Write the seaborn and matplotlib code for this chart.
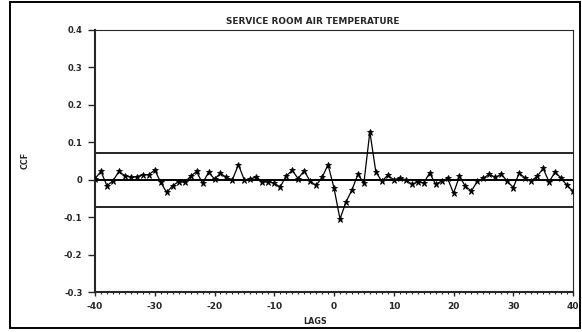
import numpy as np
import pandas as pd
import matplotlib
matplotlib.use("Agg")
import matplotlib.pyplot as plt
from matplotlib.patches import Rectangle
from matplotlib.ticker import MultipleLocator
import seaborn as sns

# Cross-correlation function estimates, lags -40 .. 40
lags = list(range(-40, 41))
ccf = [
    0.003, 0.022, -0.016, -0.003, 0.022, 0.011, 0.006, 0.008, 0.013, 0.013,   # -40..-31
    0.026, -0.007, -0.034, -0.016, -0.005, -0.007, 0.009, 0.022, -0.010, 0.020,  # -30..-21
    0.002, 0.017, 0.006, 0.000, 0.040, -0.001, 0.002, 0.008, -0.007, -0.005,   # -20..-11
    -0.010, -0.019, 0.010, 0.025, 0.003, 0.024, -0.004, -0.015, 0.006, 0.040,  # -10..-1
    -0.022,                                                                    # 0
    -0.105, -0.060, -0.027, 0.014, -0.009, 0.128, 0.021, -0.004, 0.012, 0.000,  # 1..10
    0.004, 0.000, -0.012, -0.006, -0.009, 0.018, -0.012, -0.004, 0.004, -0.036, # 11..20
    0.009, -0.018, -0.030, -0.004, 0.004, 0.015, 0.006, 0.015, -0.004, -0.021,  # 21..30
    0.018, 0.004, -0.003, 0.009, 0.030, -0.006, 0.021, 0.004, -0.015, -0.031,   # 31..40
]
conf_limit = 0.072
y_ticks = [-0.3, -0.2, -0.1, 0, 0.1, 0.2, 0.3, 0.4]
y_tick_labels = ["-0.3", "-0.2", "-0.1", "0", "0.1", "0.2", "0.3", "0.4"]
x_ticks = [-40, -30, -20, -10, 0, 10, 20, 30, 40]
x_tick_labels = ["-40", "-30", "-20", "-10", "0", "10", "20", "30", "40"]

df = pd.DataFrame({"LAGS": lags, "CCF": ccf})

sns.set_style("ticks")
plt.rcParams["font.family"] = ["DejaVu Sans"]

fig = plt.figure(figsize=(5.82, 3.32), dpi=100)
fig.patch.set_facecolor("white")
ax = fig.add_axes([95 / 582, 1 - 292 / 332, (573 - 95) / 582, (292 - 30) / 332])

# reference lines: zero and the +/- confidence limits
ax.axhline(0, color="black", lw=1.4, zorder=1)
ax.axhline(conf_limit, color="black", lw=1.2, zorder=1)
ax.axhline(-conf_limit, color="black", lw=1.2, zorder=1)

sns.lineplot(data=df, x="LAGS", y="CCF", ax=ax, color="black", lw=0.9,
             marker="*", markersize=5, markeredgewidth=0.6,
             markerfacecolor="black", markeredgecolor="black", zorder=3)

ax.set_xlim(-40, 40)
ax.set_ylim(-0.3, 0.4)
ax.set_xticks(x_ticks)
ax.set_xticklabels(x_tick_labels)
ax.set_yticks(y_ticks)
ax.set_yticklabels(y_tick_labels)
ax.xaxis.set_minor_locator(MultipleLocator(1))
ax.set_xlabel("")
ax.set_ylabel("")

for side in ["left", "bottom"]:
    ax.spines[side].set_linewidth(1.5)
for side in ["top", "right"]:
    ax.spines[side].set_linewidth(0.8)
    ax.spines[side].set_visible(True)

ax.tick_params(axis="y", which="major", direction="out", length=5, width=1,
               labelsize=6, pad=4)
ax.tick_params(axis="x", which="major", direction="out", length=3, width=1,
               labelsize=6.5, pad=4)
ax.tick_params(axis="x", which="minor", direction="out", length=1.6, width=0.8)
for lab in ax.get_xticklabels() + ax.get_yticklabels():
    lab.set_fontweight("bold")

fig.text(313 / 582, 1 - 22 / 332, "SERVICE ROOM AIR TEMPERATURE",
         ha="center", va="center", fontsize=6.4, fontweight="bold")
fig.text(315 / 582, 1 - 322 / 332, "LAGS", ha="center", va="center",
         fontsize=5.8, fontweight="bold")
fig.text(25 / 582, 1 - 160 / 332, "CCF", ha="center", va="center",
         rotation=90, fontsize=5.8, fontweight="bold")

# outer border around the whole graphic
fig.add_artist(Rectangle((10 / 582, 4 / 332), (580 - 10) / 582, (330 - 4) / 332,
                         transform=fig.transFigure, fill=False,
                         edgecolor="black", lw=1.4))

fig.savefig("out.png", dpi=100, facecolor="white")
